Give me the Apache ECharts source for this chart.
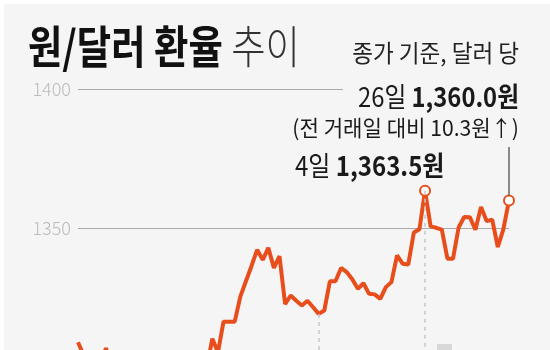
<!DOCTYPE html>
<html><head><meta charset="utf-8">
<script src="https://cdn.jsdelivr.net/npm/echarts@6/dist/echarts.min.js"></script>
<style>html,body{margin:0;padding:0;background:#fff;overflow:hidden;width:550px;height:350px}
#wrap{position:relative;width:550px;height:350px;overflow:hidden;background:#f5f5f5;box-shadow:inset 4px 4px 0 0 #fff}
#c{position:absolute;left:0;top:0;width:550px;height:520px}</style>
</head><body><div id="wrap"><div id="c"></div></div>
<script>
// trading days (2023)
const julyDays = [3,4,5,6,7,10,11,12,13,14,17,18,19,20,21,24,25,26,27,28,31];
const augDays  = [1,2,3,4,7,8,9,10,11,14,16,17,18,21,22,23,24,25,28,29,30,31];
const sepDays  = [1,4,5,6,7,8,11,12,13,14,15,18,19,20,21,22,25,26,27];
const octDays  = [4,5,6,10,11,12,13,16,17,18,19,20,23,24,25,26];
// closing rate, won per dollar
const julyValues = [1309.1,1304.5,1302,1303.5,1301,1307,1300.5,1292,1274,1271,1266,1271,1266,1263,1268,1275,1283,1278,1282,1276,1274];
const augValues  = [1283,1296,1300,1310.4,1305.5,1316.5,1316.5,1316.5,1325.5,1331,1336.5,1342.3,1338.7,1343,1335.8,1340,1322.8,1325.9,1324,1322.3,1324,1321.7];
const sepValues  = [1319.3,1320.5,1331,1331,1335.8,1334.3,1331.7,1328.3,1330.3,1326.5,1326.3,1324.7,1328.9,1330.7,1340.3,1337.3,1337,1348.5,1349.7];
const octValues  = [1363.5,1350.7,1350.2,1349.5,1339.1,1339.1,1350.3,1354.1,1354,1349.5,1357.7,1352.6,1353.1,1343.3,1349.7,1360.0];
const yTicks = [1250, 1300, 1350, 1400];

const categories = [].concat(
  julyDays.map(d => '7.' + d), augDays.map(d => '8.' + d),
  sepDays.map(d => '9.' + d), octDays.map(d => '10.' + d));
const values = [].concat(julyValues, augValues, sepValues, octValues);

const FF = '"Noto Sans CJK KR", "Noto Sans", sans-serif';
const ORANGE = '#e84e1b';

const lastIdx = values.length - 1;
let peakIdx = 0;
values.forEach((v, i) => { if (v > values[peakIdx]) peakIdx = i; });
const sepStart = julyDays.length + augDays.length;
const octStart = sepStart + sepDays.length;
const yMin = yTicks[0], yMax = yTicks[yTicks.length - 1];

const chart = echarts.init(document.getElementById('c'), null, {renderer: 'canvas'});
chart.setOption({
  animation: false,
  grid: {left: 78, right: 41, top: 89, bottom: 13},
  xAxis: {type: 'category', data: categories, boundaryGap: false, show: false},
  yAxis: {
    type: 'value', min: yMin, max: yMax, interval: 50,
    axisLine: {show: false}, axisTick: {show: false},
    axisLabel: {color: '#bbbbbb', fontSize: 18, fontFamily: FF, fontWeight: 300, margin: 7,
      formatter: v => String(v)},
    splitLine: {lineStyle: {color: '#a9a9a9', width: 1}}
  },
  series: [{
    type: 'line', data: values, symbol: 'none', z: 2,
    lineStyle: {color: ORANGE, width: 4},
    markLine: {
      silent: true, symbol: ['none', 'none'], label: {show: false},
      lineStyle: {color: '#c8c8c8', type: [4, 4], width: 1.5},
      data: [
        [{coord: [sepStart, values[sepStart]]}, {coord: [sepStart, yMin]}],
        [{coord: [octStart, values[octStart]]}, {coord: [octStart, yMin]}]
      ]
    }
  }, {
    type: 'scatter', z: 4, symbol: 'circle', symbolSize: 10,
    itemStyle: {color: '#fff', borderColor: ORANGE, borderWidth: 2, opacity: 1},
    data: [[peakIdx, values[peakIdx]], [lastIdx, values[lastIdx]]]
  }]
});

const pe = chart.convertToPixel({seriesIndex: 0}, [lastIdx, values[lastIdx]]);
const p14 = chart.convertToPixel({seriesIndex: 0}, [0, yMax]);

chart.setOption({
  graphic: [
    {type: 'rect', z: 100, shape: {x: 343, y: p14[1] - 2, width: 180, height: 4}, style: {fill: '#f5f5f5'}},
    {type: 'rect', z: 100, shape: {x: 437, y: 344, width: 15, height: 8}, style: {fill: '#d8d8d8'}},
    {type: 'line', z: 101, shape: {x1: pe[0], y1: 147, x2: pe[0], y2: pe[1] - 5}, style: {stroke: '#666', lineWidth: 1.5}},
    {type: 'text', z: 101, x: 28, y: 47, scaleX: 0.83, style: {
      text: '{b|원/달러 환율 }{l|추이}', verticalAlign: 'middle', textVerticalAlign: 'middle',
      rich: {
        b: {fontSize: 45, fontWeight: 'bold', fontFamily: FF, fill: '#111'},
        l: {fontSize: 45, fontWeight: 300, fontFamily: FF, fill: '#333'}
      }}},
    {type: 'text', z: 101, x: 519, y: 53, scaleX: 0.94, style: {
      text: '종가 기준, 달러 당', fontSize: 24, fontFamily: FF, fill: '#222',
      align: 'right', textAlign: 'right', verticalAlign: 'middle', textVerticalAlign: 'middle'}},
    {type: 'text', z: 101, x: 519, y: 97, scaleX: 0.88, style: {
      text: '{a|26일 }{b|1,360.0원}', align: 'right', textAlign: 'right', verticalAlign: 'middle', textVerticalAlign: 'middle',
      rich: {
        a: {fontSize: 27, fontFamily: FF, fill: '#1a1a1a'},
        b: {fontSize: 27, fontWeight: 'bold', fontFamily: FF, fill: '#1a1a1a'}
      }}},
    {type: 'text', z: 101, x: 519, y: 128, scaleX: 0.96, style: {
      text: '(전 거래일 대비 10.3원↑)', fontSize: 22, fontFamily: FF, fill: '#1a1a1a',
      align: 'right', textAlign: 'right', verticalAlign: 'middle', textVerticalAlign: 'middle'}},
    {type: 'text', z: 101, x: 295, y: 166, scaleX: 0.89, style: {
      text: '{a|4일 }{b|1,363.5원}', verticalAlign: 'middle', textVerticalAlign: 'middle',
      rich: {
        a: {fontSize: 27, fontFamily: FF, fill: '#1a1a1a'},
        b: {fontSize: 27, fontWeight: 'bold', fontFamily: FF, fill: '#1a1a1a'}
      }}}
  ]
});
</script></body></html>
